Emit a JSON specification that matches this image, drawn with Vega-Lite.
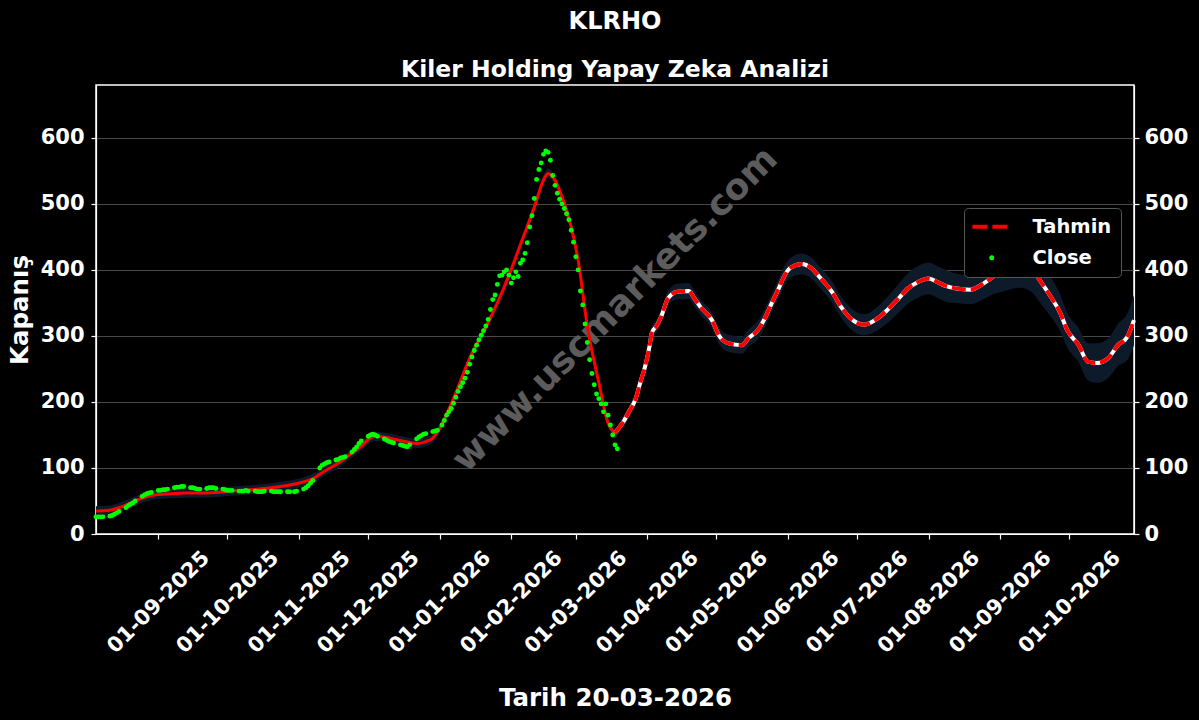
{
  "$schema": "https://vega.github.io/schema/vega-lite/v6.json",
  "width": 1038,
  "height": 449,
  "autosize": {"type": "none"},
  "padding": {"left": 96, "top": 85, "right": 65, "bottom": 186},
  "background": "black",
  "config": {
    "view": {"stroke": "white", "strokeWidth": 1.5},
    "font": "DejaVu Sans",
    "axis": {
      "domainColor": "white", "tickColor": "white", "labelColor": "white", "titleColor": "white",
      "labelFont": "DejaVu Sans", "titleFont": "DejaVu Sans",
      "labelFontWeight": "bold", "titleFontWeight": "bold",
      "labelFontSize": 21, "titleFontSize": 24.5, "tickSize": 5, "domainWidth": 1.2, "tickWidth": 1.2
    }
  },
  "title": {
    "text": "KLRHO",
    "subtitle": "Kiler Holding Yapay Zeka Analizi",
    "color": "white", "subtitleColor": "white",
    "font": "DejaVu Sans", "subtitleFont": "DejaVu Sans",
    "fontSize": 24, "subtitleFontSize": 23.5,
    "fontWeight": "bold", "subtitleFontWeight": "bold",
    "anchor": "middle", "offset": 4, "subtitlePadding": 24
  },
  "datasets": {
    "close": [
      {"date": "2025-08-05", "value": 26}, {"date": "2025-08-06", "value": 26}, {"date": "2025-08-07", "value": 26}, {"date": "2025-08-08", "value": 26},
      {"date": "2025-08-11", "value": 27}, {"date": "2025-08-12", "value": 28}, {"date": "2025-08-13", "value": 30}, {"date": "2025-08-14", "value": 32}, {"date": "2025-08-15", "value": 34},
      {"date": "2025-08-18", "value": 40}, {"date": "2025-08-19", "value": 43}, {"date": "2025-08-20", "value": 45}, {"date": "2025-08-21", "value": 47}, {"date": "2025-08-22", "value": 50},
      {"date": "2025-08-25", "value": 57}, {"date": "2025-08-26", "value": 59}, {"date": "2025-08-27", "value": 61}, {"date": "2025-08-28", "value": 62}, {"date": "2025-08-29", "value": 63},
      {"date": "2025-09-01", "value": 66}, {"date": "2025-09-02", "value": 66}, {"date": "2025-09-03", "value": 67}, {"date": "2025-09-04", "value": 67}, {"date": "2025-09-05", "value": 68},
      {"date": "2025-09-08", "value": 70}, {"date": "2025-09-09", "value": 71}, {"date": "2025-09-10", "value": 71}, {"date": "2025-09-11", "value": 72}, {"date": "2025-09-12", "value": 72},
      {"date": "2025-09-15", "value": 70}, {"date": "2025-09-16", "value": 70}, {"date": "2025-09-17", "value": 69}, {"date": "2025-09-18", "value": 68}, {"date": "2025-09-19", "value": 68},
      {"date": "2025-09-22", "value": 69}, {"date": "2025-09-23", "value": 70}, {"date": "2025-09-24", "value": 70}, {"date": "2025-09-25", "value": 70}, {"date": "2025-09-26", "value": 69},
      {"date": "2025-09-29", "value": 68}, {"date": "2025-09-30", "value": 67}, {"date": "2025-10-01", "value": 66}, {"date": "2025-10-02", "value": 66}, {"date": "2025-10-03", "value": 66},
      {"date": "2025-10-06", "value": 65}, {"date": "2025-10-07", "value": 65}, {"date": "2025-10-08", "value": 65}, {"date": "2025-10-09", "value": 66}, {"date": "2025-10-10", "value": 65},
      {"date": "2025-10-13", "value": 65}, {"date": "2025-10-14", "value": 64}, {"date": "2025-10-15", "value": 64}, {"date": "2025-10-16", "value": 64}, {"date": "2025-10-17", "value": 65},
      {"date": "2025-10-20", "value": 65}, {"date": "2025-10-21", "value": 64}, {"date": "2025-10-22", "value": 64}, {"date": "2025-10-23", "value": 64}, {"date": "2025-10-24", "value": 64},
      {"date": "2025-10-27", "value": 64}, {"date": "2025-10-28", "value": 64}, {"date": "2025-10-30", "value": 64}, {"date": "2025-10-31", "value": 65},
      {"date": "2025-11-03", "value": 68}, {"date": "2025-11-04", "value": 70}, {"date": "2025-11-05", "value": 73}, {"date": "2025-11-06", "value": 77}, {"date": "2025-11-07", "value": 81},
      {"date": "2025-11-10", "value": 100}, {"date": "2025-11-11", "value": 104}, {"date": "2025-11-12", "value": 106}, {"date": "2025-11-13", "value": 108}, {"date": "2025-11-14", "value": 109},
      {"date": "2025-11-17", "value": 112}, {"date": "2025-11-18", "value": 113}, {"date": "2025-11-19", "value": 115}, {"date": "2025-11-20", "value": 116}, {"date": "2025-11-21", "value": 117},
      {"date": "2025-11-24", "value": 124}, {"date": "2025-11-25", "value": 128}, {"date": "2025-11-26", "value": 132}, {"date": "2025-11-27", "value": 137}, {"date": "2025-11-28", "value": 141},
      {"date": "2025-12-01", "value": 148}, {"date": "2025-12-02", "value": 150}, {"date": "2025-12-03", "value": 151}, {"date": "2025-12-04", "value": 150}, {"date": "2025-12-05", "value": 148},
      {"date": "2025-12-08", "value": 144}, {"date": "2025-12-09", "value": 142}, {"date": "2025-12-10", "value": 140}, {"date": "2025-12-11", "value": 139}, {"date": "2025-12-12", "value": 138},
      {"date": "2025-12-15", "value": 135}, {"date": "2025-12-16", "value": 134}, {"date": "2025-12-17", "value": 133}, {"date": "2025-12-18", "value": 132}, {"date": "2025-12-19", "value": 135},
      {"date": "2025-12-22", "value": 144}, {"date": "2025-12-23", "value": 147}, {"date": "2025-12-24", "value": 149}, {"date": "2025-12-25", "value": 151}, {"date": "2025-12-26", "value": 152},
      {"date": "2025-12-29", "value": 155}, {"date": "2025-12-30", "value": 156}, {"date": "2025-12-31", "value": 157},
      {"date": "2026-01-02", "value": 165}, {"date": "2026-01-03", "value": 172}, {"date": "2026-01-04", "value": 180}, {"date": "2026-01-05", "value": 185}, {"date": "2026-01-06", "value": 190},
      {"date": "2026-01-07", "value": 198}, {"date": "2026-01-08", "value": 207}, {"date": "2026-01-09", "value": 216}, {"date": "2026-01-10", "value": 223}, {"date": "2026-01-11", "value": 229},
      {"date": "2026-01-12", "value": 236}, {"date": "2026-01-13", "value": 245}, {"date": "2026-01-14", "value": 257}, {"date": "2026-01-15", "value": 268}, {"date": "2026-01-16", "value": 278},
      {"date": "2026-01-17", "value": 286}, {"date": "2026-01-18", "value": 294}, {"date": "2026-01-19", "value": 301}, {"date": "2026-01-20", "value": 308}, {"date": "2026-01-21", "value": 315},
      {"date": "2026-01-22", "value": 325}, {"date": "2026-01-23", "value": 340}, {"date": "2026-01-24", "value": 355}, {"date": "2026-01-25", "value": 362}, {"date": "2026-01-26", "value": 378},
      {"date": "2026-01-27", "value": 391}, {"date": "2026-01-28", "value": 392}, {"date": "2026-01-29", "value": 397}, {"date": "2026-01-30", "value": 400}, {"date": "2026-01-31", "value": 392},
      {"date": "2026-02-01", "value": 380}, {"date": "2026-02-02", "value": 388}, {"date": "2026-02-03", "value": 397}, {"date": "2026-02-04", "value": 390}, {"date": "2026-02-05", "value": 410},
      {"date": "2026-02-06", "value": 415}, {"date": "2026-02-07", "value": 425}, {"date": "2026-02-08", "value": 441}, {"date": "2026-02-09", "value": 465}, {"date": "2026-02-10", "value": 482},
      {"date": "2026-02-11", "value": 508}, {"date": "2026-02-12", "value": 537}, {"date": "2026-02-13", "value": 552}, {"date": "2026-02-14", "value": 562}, {"date": "2026-02-15", "value": 575},
      {"date": "2026-02-16", "value": 580}, {"date": "2026-02-17", "value": 578}, {"date": "2026-02-18", "value": 566}, {"date": "2026-02-19", "value": 543}, {"date": "2026-02-20", "value": 528},
      {"date": "2026-02-21", "value": 516}, {"date": "2026-02-22", "value": 507}, {"date": "2026-02-23", "value": 500}, {"date": "2026-02-24", "value": 493}, {"date": "2026-02-25", "value": 485},
      {"date": "2026-02-26", "value": 476}, {"date": "2026-02-27", "value": 460}, {"date": "2026-02-28", "value": 442}, {"date": "2026-03-01", "value": 420}, {"date": "2026-03-02", "value": 400},
      {"date": "2026-03-03", "value": 368}, {"date": "2026-03-04", "value": 347}, {"date": "2026-03-05", "value": 318}, {"date": "2026-03-06", "value": 290}, {"date": "2026-03-07", "value": 264},
      {"date": "2026-03-08", "value": 243}, {"date": "2026-03-09", "value": 226}, {"date": "2026-03-10", "value": 212}, {"date": "2026-03-11", "value": 205}, {"date": "2026-03-12", "value": 197},
      {"date": "2026-03-13", "value": 185}, {"date": "2026-03-14", "value": 197}, {"date": "2026-03-15", "value": 180}, {"date": "2026-03-16", "value": 165}, {"date": "2026-03-17", "value": 150},
      {"date": "2026-03-18", "value": 135}, {"date": "2026-03-19", "value": 129}
    ],
    "fit": [
      {"date": "2025-08-05", "value": 35}, {"date": "2025-08-11", "value": 36}, {"date": "2025-08-15", "value": 40}, {"date": "2025-08-20", "value": 47},
      {"date": "2025-08-24", "value": 53}, {"date": "2025-08-30", "value": 59}, {"date": "2025-09-06", "value": 61}, {"date": "2025-09-13", "value": 62},
      {"date": "2025-09-19", "value": 62}, {"date": "2025-09-26", "value": 63}, {"date": "2025-10-02", "value": 65}, {"date": "2025-10-11", "value": 67},
      {"date": "2025-10-20", "value": 70}, {"date": "2025-10-26", "value": 73}, {"date": "2025-11-02", "value": 78}, {"date": "2025-11-07", "value": 84},
      {"date": "2025-11-12", "value": 95}, {"date": "2025-11-18", "value": 107}, {"date": "2025-11-23", "value": 120}, {"date": "2025-11-28", "value": 133},
      {"date": "2025-12-01", "value": 143}, {"date": "2025-12-04", "value": 148}, {"date": "2025-12-09", "value": 146}, {"date": "2025-12-13", "value": 143},
      {"date": "2025-12-17", "value": 140}, {"date": "2025-12-22", "value": 137}, {"date": "2025-12-26", "value": 140}, {"date": "2025-12-29", "value": 145},
      {"date": "2026-01-01", "value": 160}, {"date": "2026-01-07", "value": 205}, {"date": "2026-01-14", "value": 266}, {"date": "2026-01-22", "value": 320},
      {"date": "2026-01-29", "value": 374}, {"date": "2026-02-05", "value": 438}, {"date": "2026-02-11", "value": 495}, {"date": "2026-02-15", "value": 536},
      {"date": "2026-02-17", "value": 546}, {"date": "2026-02-19", "value": 541}, {"date": "2026-02-23", "value": 511}, {"date": "2026-02-27", "value": 465},
      {"date": "2026-03-02", "value": 415}, {"date": "2026-03-06", "value": 315}, {"date": "2026-03-11", "value": 229}, {"date": "2026-03-15", "value": 168},
      {"date": "2026-03-18", "value": 153}
    ],
    "forecast": [
      {"date": "2026-03-18", "value": 153}, {"date": "2026-03-20", "value": 162}, {"date": "2026-03-22", "value": 172}, {"date": "2026-03-24", "value": 185},
      {"date": "2026-03-27", "value": 205}, {"date": "2026-03-29", "value": 230}, {"date": "2026-03-31", "value": 253}, {"date": "2026-04-02", "value": 285},
      {"date": "2026-04-03", "value": 305}, {"date": "2026-04-05", "value": 315}, {"date": "2026-04-07", "value": 329}, {"date": "2026-04-10", "value": 357},
      {"date": "2026-04-14", "value": 367}, {"date": "2026-04-19", "value": 368}, {"date": "2026-04-21", "value": 359}, {"date": "2026-04-24", "value": 344},
      {"date": "2026-04-29", "value": 324}, {"date": "2026-05-02", "value": 301}, {"date": "2026-05-06", "value": 289}, {"date": "2026-05-12", "value": 286},
      {"date": "2026-05-15", "value": 297}, {"date": "2026-05-19", "value": 309}, {"date": "2026-05-22", "value": 327}, {"date": "2026-05-25", "value": 350},
      {"date": "2026-05-28", "value": 372}, {"date": "2026-05-30", "value": 388}, {"date": "2026-06-02", "value": 403}, {"date": "2026-06-07", "value": 409},
      {"date": "2026-06-11", "value": 403}, {"date": "2026-06-15", "value": 388}, {"date": "2026-06-20", "value": 367}, {"date": "2026-06-24", "value": 344},
      {"date": "2026-06-28", "value": 327}, {"date": "2026-07-04", "value": 317}, {"date": "2026-07-10", "value": 327}, {"date": "2026-07-14", "value": 339},
      {"date": "2026-07-19", "value": 357}, {"date": "2026-07-23", "value": 372}, {"date": "2026-07-27", "value": 381}, {"date": "2026-08-01", "value": 387},
      {"date": "2026-08-05", "value": 381}, {"date": "2026-08-09", "value": 375}, {"date": "2026-08-15", "value": 371}, {"date": "2026-08-19", "value": 370},
      {"date": "2026-08-25", "value": 380}, {"date": "2026-08-29", "value": 390}, {"date": "2026-09-03", "value": 400}, {"date": "2026-09-09", "value": 408},
      {"date": "2026-09-14", "value": 403}, {"date": "2026-09-19", "value": 380}, {"date": "2026-09-23", "value": 359}, {"date": "2026-09-27", "value": 335},
      {"date": "2026-09-30", "value": 309}, {"date": "2026-10-05", "value": 286}, {"date": "2026-10-09", "value": 261}, {"date": "2026-10-13", "value": 259},
      {"date": "2026-10-18", "value": 267}, {"date": "2026-10-22", "value": 286}, {"date": "2026-10-26", "value": 298}, {"date": "2026-10-29", "value": 324}
    ],
    "band": [
      {"date": "2025-08-05", "lower": 28, "upper": 42}, {"date": "2025-08-11", "lower": 29, "upper": 43}, {"date": "2025-08-15", "lower": 33, "upper": 47},
      {"date": "2025-08-20", "lower": 40, "upper": 54}, {"date": "2025-08-24", "lower": 46, "upper": 60}, {"date": "2025-08-30", "lower": 52, "upper": 66},
      {"date": "2025-09-06", "lower": 54, "upper": 68}, {"date": "2025-09-13", "lower": 55, "upper": 69}, {"date": "2025-09-19", "lower": 55, "upper": 69},
      {"date": "2025-09-26", "lower": 56, "upper": 70}, {"date": "2025-10-02", "lower": 58, "upper": 72}, {"date": "2025-10-11", "lower": 60, "upper": 74},
      {"date": "2025-10-20", "lower": 63, "upper": 77}, {"date": "2025-10-26", "lower": 66, "upper": 80}, {"date": "2025-11-02", "lower": 71, "upper": 85},
      {"date": "2025-11-07", "lower": 77, "upper": 91}, {"date": "2025-11-12", "lower": 88, "upper": 102}, {"date": "2025-11-18", "lower": 100, "upper": 114},
      {"date": "2025-11-23", "lower": 113, "upper": 127}, {"date": "2025-11-28", "lower": 126, "upper": 140}, {"date": "2025-12-01", "lower": 136, "upper": 150},
      {"date": "2025-12-04", "lower": 141, "upper": 155}, {"date": "2025-12-09", "lower": 139, "upper": 153}, {"date": "2025-12-13", "lower": 136, "upper": 150},
      {"date": "2025-12-17", "lower": 133, "upper": 147}, {"date": "2025-12-22", "lower": 130, "upper": 144}, {"date": "2025-12-26", "lower": 133, "upper": 147},
      {"date": "2025-12-29", "lower": 138, "upper": 152}, {"date": "2026-01-01", "lower": 153, "upper": 167}, {"date": "2026-01-07", "lower": 198, "upper": 212},
      {"date": "2026-01-14", "lower": 259, "upper": 273}, {"date": "2026-01-22", "lower": 313, "upper": 327}, {"date": "2026-01-29", "lower": 367, "upper": 381},
      {"date": "2026-02-05", "lower": 431, "upper": 445}, {"date": "2026-02-11", "lower": 488, "upper": 502}, {"date": "2026-02-15", "lower": 529, "upper": 543},
      {"date": "2026-02-17", "lower": 539, "upper": 553}, {"date": "2026-02-19", "lower": 534, "upper": 548}, {"date": "2026-02-23", "lower": 504, "upper": 518},
      {"date": "2026-02-27", "lower": 458, "upper": 472}, {"date": "2026-03-02", "lower": 408, "upper": 422}, {"date": "2026-03-06", "lower": 308, "upper": 322},
      {"date": "2026-03-11", "lower": 222, "upper": 236}, {"date": "2026-03-15", "lower": 161, "upper": 175},
      {"date": "2026-03-18", "lower": 145, "upper": 161}, {"date": "2026-03-20", "lower": 154, "upper": 170}, {"date": "2026-03-22", "lower": 163, "upper": 181},
      {"date": "2026-03-24", "lower": 176, "upper": 194}, {"date": "2026-03-27", "lower": 195, "upper": 215}, {"date": "2026-03-29", "lower": 220, "upper": 240},
      {"date": "2026-03-31", "lower": 243, "upper": 263}, {"date": "2026-04-02", "lower": 275, "upper": 295}, {"date": "2026-04-03", "lower": 295, "upper": 315},
      {"date": "2026-04-05", "lower": 305, "upper": 325}, {"date": "2026-04-07", "lower": 318, "upper": 340}, {"date": "2026-04-10", "lower": 346, "upper": 368},
      {"date": "2026-04-14", "lower": 355, "upper": 379}, {"date": "2026-04-19", "lower": 356, "upper": 380}, {"date": "2026-04-21", "lower": 347, "upper": 371},
      {"date": "2026-04-24", "lower": 332, "upper": 356}, {"date": "2026-04-29", "lower": 312, "upper": 336}, {"date": "2026-05-02", "lower": 288, "upper": 314},
      {"date": "2026-05-06", "lower": 276, "upper": 302}, {"date": "2026-05-12", "lower": 273, "upper": 299}, {"date": "2026-05-15", "lower": 284, "upper": 310},
      {"date": "2026-05-19", "lower": 295, "upper": 323}, {"date": "2026-05-22", "lower": 313, "upper": 341}, {"date": "2026-05-25", "lower": 336, "upper": 364},
      {"date": "2026-05-28", "lower": 357, "upper": 387}, {"date": "2026-05-30", "lower": 373, "upper": 403}, {"date": "2026-06-02", "lower": 388, "upper": 418},
      {"date": "2026-06-07", "lower": 393, "upper": 425}, {"date": "2026-06-11", "lower": 387, "upper": 419}, {"date": "2026-06-15", "lower": 372, "upper": 404},
      {"date": "2026-06-20", "lower": 351, "upper": 383}, {"date": "2026-06-24", "lower": 328, "upper": 360}, {"date": "2026-06-28", "lower": 311, "upper": 343},
      {"date": "2026-07-04", "lower": 301, "upper": 333}, {"date": "2026-07-10", "lower": 309, "upper": 345}, {"date": "2026-07-14", "lower": 319, "upper": 359},
      {"date": "2026-07-19", "lower": 335, "upper": 379}, {"date": "2026-07-23", "lower": 349, "upper": 395}, {"date": "2026-07-27", "lower": 357, "upper": 405},
      {"date": "2026-08-01", "lower": 363, "upper": 411}, {"date": "2026-08-05", "lower": 357, "upper": 405}, {"date": "2026-08-09", "lower": 351, "upper": 399},
      {"date": "2026-08-15", "lower": 349, "upper": 393}, {"date": "2026-08-19", "lower": 348, "upper": 392}, {"date": "2026-08-25", "lower": 356, "upper": 404},
      {"date": "2026-08-29", "lower": 363, "upper": 417}, {"date": "2026-09-03", "lower": 368, "upper": 432}, {"date": "2026-09-09", "lower": 373, "upper": 443},
      {"date": "2026-09-14", "lower": 368, "upper": 438}, {"date": "2026-09-19", "lower": 347, "upper": 413}, {"date": "2026-09-23", "lower": 329, "upper": 389},
      {"date": "2026-09-27", "lower": 307, "upper": 363}, {"date": "2026-09-30", "lower": 283, "upper": 335}, {"date": "2026-10-05", "lower": 260, "upper": 312},
      {"date": "2026-10-09", "lower": 233, "upper": 289}, {"date": "2026-10-13", "lower": 229, "upper": 289}, {"date": "2026-10-18", "lower": 237, "upper": 297},
      {"date": "2026-10-22", "lower": 254, "upper": 318}, {"date": "2026-10-26", "lower": 263, "upper": 333}, {"date": "2026-10-29", "lower": 286, "upper": 362}
    ]
  },
  "layer": [
    {
      "data": {"name": "band"},
      "mark": {"type": "area", "color": "#0c1a2a", "interpolate": "monotone"},
      "encoding": {
        "x": {
          "field": "date",
          "type": "temporal",
          "scale": {
            "type": "utc",
            "domain": [{"year": 2025, "month": 8, "date": 5, "utc": true}, {"year": 2026, "month": 10, "date": 29, "utc": true}]
          },
          "axis": {
            "title": "Tarih 20-03-2026",
            "grid": false,
            "labelExpr": "utcFormat(datum.value, '%d-%m-%Y')",
            "values": [
              {"year": 2025, "month": 9, "date": 1, "utc": true}, {"year": 2025, "month": 10, "date": 1, "utc": true},
              {"year": 2025, "month": 11, "date": 1, "utc": true}, {"year": 2025, "month": 12, "date": 1, "utc": true},
              {"year": 2026, "month": 1, "date": 1, "utc": true}, {"year": 2026, "month": 2, "date": 1, "utc": true},
              {"year": 2026, "month": 3, "date": 1, "utc": true}, {"year": 2026, "month": 4, "date": 1, "utc": true},
              {"year": 2026, "month": 5, "date": 1, "utc": true}, {"year": 2026, "month": 6, "date": 1, "utc": true},
              {"year": 2026, "month": 7, "date": 1, "utc": true}, {"year": 2026, "month": 8, "date": 1, "utc": true},
              {"year": 2026, "month": 9, "date": 1, "utc": true}, {"year": 2026, "month": 10, "date": 1, "utc": true}
            ],
            "labelAngle": -45,
            "labelAlign": "center",
            "labelBaseline": "middle",
            "labelPadding": 63,
            "labelOverlap": false,
            "titlePadding": 30
          }
        },
        "y": {
          "field": "lower", "type": "quantitative",
          "scale": {"domain": [0, 680], "nice": false},
          "axis": {
            "orient": "left", "title": "Kapanış", "values": [0, 100, 200, 300, 400, 500, 600],
            "grid": true, "gridColor": "#5a5a5a", "gridWidth": 0.8,
            "labelPadding": 7, "titlePadding": 8
          }
        },
        "y2": {"field": "upper"}
      }
    },
    {
      "data": {"values": [{"t": "www.uscmarkets.com"}]},
      "mark": {"type": "text", "angle": -45, "fontSize": 36, "fontWeight": "bold", "font": "DejaVu Sans", "fill": "#5c5c5c", "align": "center", "baseline": "middle"},
      "encoding": {
        "x": {"datum": {"year": 2026, "month": 3, "date": 18, "utc": true}, "type": "temporal"},
        "y": {"datum": 340, "type": "quantitative", "axis": null},
        "text": {"field": "t", "type": "nominal"}
      }
    },
    {
      "data": {"name": "fit"},
      "mark": {"type": "line", "color": "#ff0000", "strokeWidth": 3, "interpolate": "monotone"},
      "encoding": {
        "x": {"field": "date", "type": "temporal", "title": "Tarih 20-03-2026"},
        "y": {
          "field": "value", "type": "quantitative",
          "axis": {"orient": "right", "title": null, "values": [0, 100, 200, 300, 400, 500, 600], "grid": false, "labelPadding": 5}
        }
      }
    },
    {
      "data": {"name": "forecast"},
      "mark": {"type": "line", "color": "white", "strokeWidth": 4, "interpolate": "monotone"},
      "encoding": {
        "x": {"field": "date", "type": "temporal", "title": "Tarih 20-03-2026"},
        "y": {"field": "value", "type": "quantitative", "axis": null}
      }
    },
    {
      "data": {"name": "forecast"},
      "mark": {"type": "line", "strokeWidth": 4, "strokeDash": [14, 5], "interpolate": "monotone"},
      "encoding": {
        "x": {"field": "date", "type": "temporal", "title": "Tarih 20-03-2026"},
        "y": {"field": "value", "type": "quantitative", "axis": null},
        "color": {
          "datum": "Tahmin",
          "type": "nominal",
          "scale": {"domain": ["Tahmin", "Close"], "range": ["#ff0000", "#00ff00"]},
          "legend": {
            "orient": "none", "legendX": 868, "legendY": 123, "title": null,
            "fillColor": "black", "strokeColor": "#555555", "cornerRadius": 4, "padding": 9,
            "labelColor": "white", "labelFontSize": 19.5, "labelFontWeight": "bold", "labelFont": "DejaVu Sans",
            "symbolSize": 1500, "labelOffset": 31, "symbolOffset": 9, "rowPadding": 10, "symbolStrokeWidth": 4,
            "encode": {
              "symbols": {
                "update": {
                  "shape": {"signal": "datum.value === 'Tahmin' ? 'stroke' : 'circle'"},
                  "size": {"signal": "datum.value === 'Tahmin' ? 1500 : 25"},
                  "stroke": {"signal": "datum.value === 'Tahmin' ? '#ff0000' : 'transparent'"},
                  "fill": {"signal": "datum.value === 'Tahmin' ? 'transparent' : '#00ff00'"},
                  "strokeDash": {"signal": "datum.value === 'Tahmin' ? [15, 5] : [1, 0]"},
                  "strokeWidth": {"signal": "datum.value === 'Tahmin' ? 4 : 0"},
                  "opacity": {"value": 1}
                }
              }
            }
          }
        }
      }
    },
    {
      "data": {"name": "close"},
      "mark": {"type": "point", "filled": true, "size": 24, "opacity": 1},
      "encoding": {
        "x": {"field": "date", "type": "temporal", "title": "Tarih 20-03-2026"},
        "y": {"field": "value", "type": "quantitative", "axis": null},
        "color": {"datum": "Close", "type": "nominal"}
      }
    }
  ],
  "resolve": {"axis": {"y": "independent"}}
}
